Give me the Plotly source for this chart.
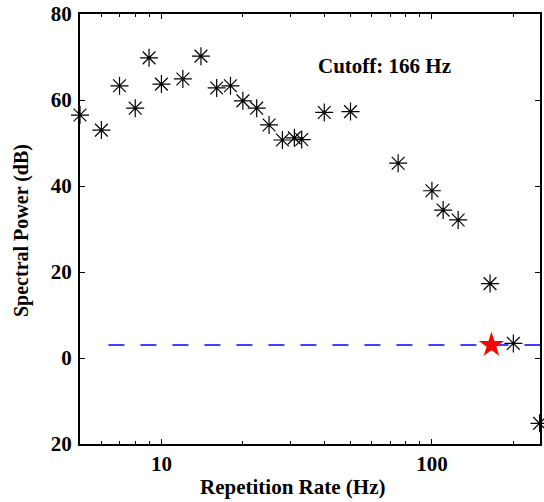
import plotly.graph_objects as go

rate_hz = [5, 6, 7, 8, 9, 10, 12, 14, 16, 18, 20, 22.5, 25, 28, 31, 33, 40, 50, 75, 100, 110, 125, 164, 200, 250]
power_db = [56.5, 53.0, 63.3, 58.1, 69.8, 63.7, 64.9, 70.2, 62.8, 63.3, 59.8, 58.1, 54.2, 50.7, 51.2, 50.8,
            57.1, 57.3, 45.3, 38.9, 34.4, 32.1, 17.3, 3.4, -15.2]
cutoff_hz = [166]
cutoff_db = [3]
threshold_x = [6.37, 260]
threshold_y = [3, 3]
y_tickvals = [-20, 0, 20, 40, 60, 80]
y_ticktext = ["20", "0", "20", "40", "60", "80"]
x_tickvals = [10, 100]
x_ticktext = ["10", "100"]
x_minor = [6, 7, 8, 9, 20, 30, 40, 50, 60, 70, 80, 90, 200]

FONT = "Liberation Serif"

fig = go.Figure()
fig.add_trace(go.Scatter(x=threshold_x, y=threshold_y, mode="lines",
                         line=dict(color="#0000ff", width=1.5, dash="16px,16px"),
                         hoverinfo="skip", showlegend=False))
fig.add_trace(go.Scatter(x=rate_hz, y=power_db, mode="markers", cliponaxis=False,
                         marker=dict(symbol="asterisk-open", size=15, color="black",
                                     line=dict(color="black", width=1.2)),
                         showlegend=False))
fig.add_trace(go.Scatter(x=cutoff_hz, y=cutoff_db, mode="markers",
                         marker=dict(symbol="star", size=19, color="#ff0000",
                                     line=dict(width=0)),
                         showlegend=False))

axis_common = dict(showline=True, linecolor="black", linewidth=2, mirror="ticks",
                   ticks="inside", ticklen=5, tickcolor="black", tickwidth=1,
                   showgrid=False, zeroline=False, automargin=False,
                   tickfont=dict(family=FONT, size=21, color="black"))

fig.update_xaxes(type="log", range=[0.69897, 2.3995],
                 tickmode="array", tickvals=x_tickvals,
                 ticktext=["<b>%s</b>" % t for t in x_ticktext],
                 minor=dict(ticks="inside", ticklen=3, tickcolor="black", tickvals=x_minor, showgrid=False),
                 **axis_common)
fig.update_yaxes(range=[-20, 80], tickmode="array", tickvals=y_tickvals,
                 ticktext=["<b>%s</b>" % t for t in y_ticktext],
                 ticklabelstandoff=2,
                 **axis_common)

fig.add_annotation(text="<b>Repetition Rate (Hz)</b>", xref="paper", yref="paper", x=0.462, y=0,
                   yshift=-43, xanchor="center", yanchor="middle", showarrow=False,
                   font=dict(family=FONT, size=21, color="black"))
fig.add_annotation(text="<b>Spectral Power (dB)</b>", xref="paper", yref="paper", x=0, y=0.5,
                   xshift=-59, yshift=-2, textangle=-90, xanchor="center", yanchor="middle", showarrow=False,
                   font=dict(family=FONT, size=20, color="black"))
fig.add_annotation(text="<b>Cutoff: 166 Hz</b>", xref="paper", yref="paper", x=0.663, y=0.9115,
                   showarrow=False, font=dict(family=FONT, size=21, color="black"))

fig.update_layout(width=544, height=502, margin=dict(l=80, r=4, t=14, b=58),
                  plot_bgcolor="white", paper_bgcolor="white")

fig.write_html("out.html", config={"displayModeBar": False},
               post_script="document.body.style.margin='0';document.body.style.overflow='hidden';")
